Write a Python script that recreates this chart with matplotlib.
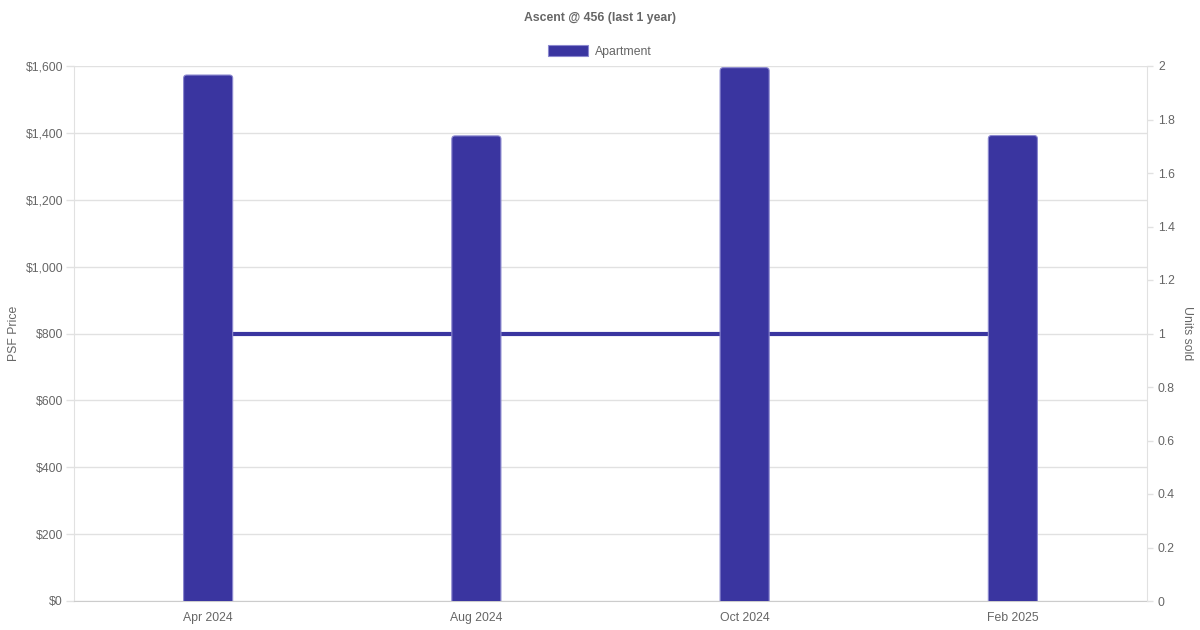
import matplotlib
matplotlib.use("Agg")
import matplotlib.pyplot as plt
from matplotlib.patches import FancyBboxPatch, Patch

plt.rcParams['font.family'] = ['Liberation Sans', 'DejaVu Sans']

categories = ["Apr 2024", "Aug 2024", "Oct 2024", "Feb 2025"]
psf_price = [1573, 1391, 1595, 1392]
units_sold = [1, 1, 1, 1]
left_ticks = [0, 200, 400, 600, 800, 1000, 1200, 1400, 1600]
left_tick_labels = ["$0", "$200", "$400", "$600", "$800", "$1,000", "$1,200", "$1,400", "$1,600"]
right_ticks = [0, 0.2, 0.4, 0.6, 0.8, 1, 1.2, 1.4, 1.6, 1.8, 2]
right_tick_labels = ["0", "0.2", "0.4", "0.6", "0.8", "1", "1.2", "1.4", "1.6", "1.8", "2"]

BAR = "#3a35a0"
EDGE = "#8b88cf"
TXT = "#666666"
GRID = "#e1e1e1"
FS = 8.8
PX = 0.72  # points per pixel at dpi 100

fig = plt.figure(figsize=(12, 6.3), dpi=100)
ax = fig.add_axes([74/1200, 29/630, (1147-74)/1200, (601-66)/630])
ax2 = ax.twinx()

x = list(range(len(categories)))
ax.set_xlim(-0.5, len(categories) - 0.5)
ax.set_ylim(0, 1600)
ax2.set_ylim(0, 2)

bars = ax.bar(x, psf_price, width=0.183, color=BAR, zorder=3)
for b in bars:
    bx, by, bw, bh = b.get_x(), b.get_y(), b.get_width(), b.get_height()
    b.set_visible(False)
    p = FancyBboxPatch((bx, by - 30), bw, bh + 30,
                       boxstyle="round,pad=0,rounding_size=0.012",
                       mutation_aspect=800, facecolor=BAR, edgecolor=EDGE,
                       linewidth=0.8, clip_on=True, zorder=3)
    ax.add_patch(p)

# units sold line, using the right-axis scale but drawn beneath the bars
ax.plot(x, units_sold, color=BAR, linewidth=3, solid_capstyle='butt',
        transform=ax2.transData, zorder=2.5)

ax.set_yticks(left_ticks)
ax.set_yticklabels(left_tick_labels)
ax2.set_yticks(right_ticks)
ax2.set_yticklabels(right_tick_labels)
ax.set_xticks(x)
ax.set_xticklabels(categories)

ax.grid(axis='y', color=GRID, linewidth=1, zorder=1)
ax.set_axisbelow(True)

for a in (ax, ax2):
    for s in a.spines.values():
        s.set_visible(False)
ax.spines['left'].set_visible(True)
ax.spines['left'].set_color(GRID)
ax.spines['bottom'].set_visible(True)
ax.spines['bottom'].set_color("#cccccc")
ax2.spines['right'].set_visible(True)
ax2.spines['right'].set_color(GRID)

ax.tick_params(axis='y', colors=GRID, labelcolor=TXT, labelsize=FS, length=8*PX, width=1, pad=3*PX)
ax.tick_params(axis='x', length=0, labelcolor=TXT, labelsize=FS, pad=11*PX)
ax2.tick_params(axis='y', colors=GRID, labelcolor=TXT, labelsize=FS, length=6*PX, width=1, pad=5*PX)

ax.set_ylabel("PSF Price", color=TXT, fontsize=FS, labelpad=4)
ax2.set_ylabel("Units sold", color=TXT, fontsize=FS, rotation=270, labelpad=13)

fig.text(0.5, 1 - 17/630, "Ascent @ 456 (last 1 year)", ha='center', va='center_baseline',
         color=TXT, fontsize=FS, fontweight='bold')

leg = fig.legend(handles=[Patch(facecolor=BAR, edgecolor=EDGE, linewidth=0.8)], labels=["Apartment"],
                 loc='center', bbox_to_anchor=(600/1200, 1 - 51.5/630), frameon=False,
                 handlelength=3.27, handleheight=0.98, handletextpad=0.55, fontsize=FS)
for t in leg.get_texts():
    t.set_color(TXT)

fig.savefig("out.png", dpi=100)
